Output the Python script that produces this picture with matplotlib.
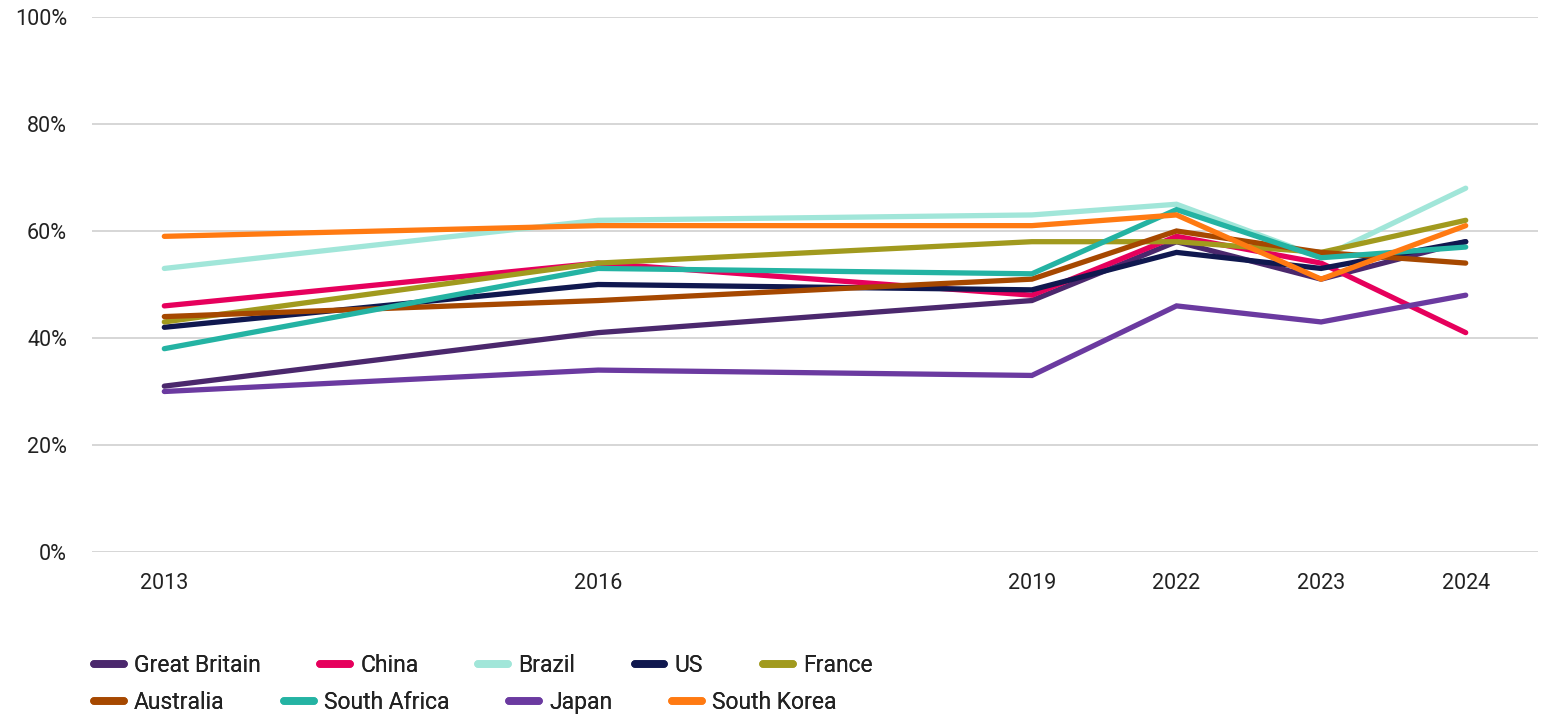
import matplotlib
matplotlib.use("Agg")
import matplotlib.pyplot as plt
from matplotlib.lines import Line2D
from matplotlib.ticker import FuncFormatter

plt.rcParams.update({
    "font.family": ["Roboto", "DejaVu Sans"],
    "text.color": "#222222",
})

# category axis: every survey slot, only some of them carry data
slots = ["2013", "2014", "2015", "2016", "2017", "2018", "2019", "2022", "2023", "2024"]
years = ["2013", "2016", "2019", "2022", "2023", "2024"]

great_britain = [31, 41, 47, 58, 51, 58]
china = [46, 54, 48, 59, 54, 41]
brazil = [53, 62, 63, 65, 55, 68]
us = [42, 50, 49, 56, 53, 58]
france = [43, 54, 58, 58, 56, 62]
australia = [44, 47, 51, 60, 56, 54]
south_africa = [38, 53, 52, 64, 55, 57]
japan = [30, 34, 33, 46, 43, 48]
south_korea = [59, 61, 61, 63, 51, 61]

series = [
    ("Great Britain", great_britain, "#4b286d"),
    ("China", china, "#e6005c"),
    ("Brazil", brazil, "#a1e6d9"),
    ("US", us, "#10184f"),
    ("France", france, "#a19a1e"),
    ("Australia", australia, "#a64800"),
    ("South Africa", south_africa, "#24b3a3"),
    ("Japan", japan, "#6b3aa0"),
    ("South Korea", south_korea, "#ff7a12"),
]

fig = plt.figure(figsize=(15.49, 7.14), dpi=100)
ax = fig.add_axes([0.0594, 0.2269, 0.9335, 0.7493])

xpos = [slots.index(y) for y in years]
handles = {}
for name, vals, col in series:
    ax.plot(xpos, vals, color=col, lw=3.8, solid_capstyle="round",
            solid_joinstyle="miter", zorder=3)
    handles[name] = Line2D([], [], color=col, lw=5.5, solid_capstyle="round")

ax.set_xlim(-0.5, len(slots) - 0.5)
ax.set_ylim(0, 100)
ax.set_yticks(range(0, 101, 20))
ax.yaxis.set_major_formatter(FuncFormatter(lambda v, _: f"{v:.0f}%"))
ax.set_xticks(xpos)
ax.set_xticklabels(years)
ax.tick_params(axis="both", length=0, labelsize=15.5, colors="#222222")
ax.tick_params(axis="x", pad=15)
ax.tick_params(axis="y", pad=18)
ax.grid(axis="y", color="#cccccc", lw=1.1)
ax.set_axisbelow(True)
for s in ax.spines.values():
    s.set_visible(False)

# two free-flowing legend rows under the plot
rows = [["Great Britain", "China", "Brazil", "US", "France"],
        ["Australia", "South Africa", "Japan", "South Korea"]]
for row, ypos in zip(rows, [0.068, 0.0155]):
    leg = fig.legend([handles[n] for n in row], row, loc="center left",
                     bbox_to_anchor=(0.0605, ypos), ncol=len(row), frameon=False,
                     fontsize=16.5, handlelength=1.3, handletextpad=0.45,
                     columnspacing=2.6, borderaxespad=0, borderpad=0)
    fig.add_artist(leg)

fig.savefig("out.png", facecolor="white")
